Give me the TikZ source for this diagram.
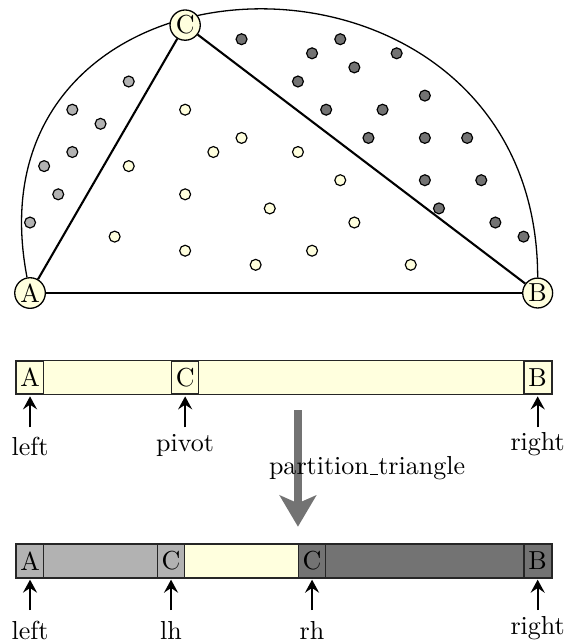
\documentclass[tikz,border=0pt]{standalone}
\usetikzlibrary{arrows.meta}
\pgfdeclarelayer{bg}
\pgfsetlayers{bg,main}
\definecolor{yel}{RGB}{255,255,222}
\colorlet{gA}{black!30}
\colorlet{gB}{black!55}
\tikzset{
  pt/.style={circle, draw, fill=yel, line width=0.5pt, inner sep=0.5pt, minimum size=11.5pt},
  dotl/.style={circle, draw, line width=0.45pt, inner sep=0pt, minimum size=4.2pt, fill=yel},
  dotg/.style={dotl, fill=gA},
  dotd/.style={dotl, fill=gB},
  cell/.style={rectangle, draw=black!85, line width=0.5pt, inner sep=0pt, minimum width=10.4pt, minimum height=12.5pt},
  arr/.style={-{Stealth[length=5pt,width=5.4pt,inset=1.8pt]}, line width=0.7pt, shorten >=0.7pt},
  lbl/.style={anchor=south, inner sep=0pt},
  bigarr/.style={-{Stealth[length=12pt,width=14pt,inset=3pt]}, line width=2.8pt, draw=gB},
}
\begin{document}
\begin{tikzpicture}[x=5.42pt,y=5.42pt]
\useasboundingbox (-2.13,-24.89) rectangle (38.51,20.78);
% triangle points
\node[pt] (A) at (0,0) {A};
\node[pt] (B) at (36,0) {B};
\node[pt] (C) at (11,19) {C};
% dots
\foreach \x/\y [count=\k] in {7/15,3/13,5/12,3/10,1/9,2/7,0/5}
  \node[dotg] (g\k) at (\x,\y) {};
\foreach \x/\y [count=\k] in {15/18,22/18,20/17,26/17,23/16,19/15,28/14,21/13,25/13,24/11,28/11,31/11,28/8,32/8,29/6,33/5,35/4}
  \node[dotd] (d\k) at (\x,\y) {};
\foreach \x/\y [count=\k] in {11/13,15/11,13/10,19/10,7/9,22/8,11/7,17/6,23/5,6/4,11/3,20/3,16/2,27/2}
  \node[dotl] (l\k) at (\x,\y) {};
% upper bar cells
\node[cell, fill=yel] (A1) at (0,-6) {A};
\node[cell, fill=yel] (C1) at (11,-6) {C};
\node[cell, fill=yel] (B1) at (36,-6) {B};
% lower bar cells
\node[cell, fill=gA] (A2) at (0,-19) {A};
\node[cell, fill=gA] (L2) at (10,-19) {C};
\node[cell, fill=gB] (R2) at (20,-19) {C};
\node[cell, fill=gB] (B2) at (36,-19) {B};
\begin{pgfonlayer}{bg}
  \draw[line width=0.5pt] (A) .. controls (-5,26) and (36,27) .. (B);
  \draw[line width=0.8pt] (A) -- (C) -- (B);
  \draw[line width=0.6pt] (A) -- (B);
  \draw[fill=yel, draw=black!85, line width=0.5pt] (A1.south west) rectangle (B1.north east);
  \fill[gA] (A2.south west) rectangle (L2.north east);
  \fill[yel] (L2.south east) rectangle (R2.north west);
  \fill[gB] (R2.south west) rectangle (B2.north east);
  \draw[draw=black!85, line width=0.5pt] (A2.south west) rectangle (B2.north east);
\end{pgfonlayer}
% upper labels and arrows
\node[lbl] (la1) at (0,-11.6) {left};
\node[lbl] (lp1) at (11,-11.6) {pivot};
\node[lbl] (lr1) at (36,-11.6) {right};
\coordinate (ta1) at (0,-9.53);
\coordinate (tp1) at (11,-9.53);
\coordinate (tr1) at (36,-9.53);
\draw[arr] (ta1) -- (A1);
\draw[arr] (tp1) -- (C1);
\draw[arr] (tr1) -- (B1);
% lower labels and arrows
\node[lbl] (la2) at (0,-24.61) {left};
\node[lbl] (ll2) at (10,-24.61) {lh};
\node[lbl] (lr2) at (20,-24.61) {rh};
\node[lbl] (lb2) at (36,-24.61) {right};
\coordinate (ta2) at (0,-22.48);
\coordinate (tl2) at (10,-22.48);
\coordinate (tr2) at (20,-22.48);
\coordinate (tb2) at (36,-22.48);
\draw[arr] (ta2) -- (A2);
\draw[arr] (tl2) -- (L2);
\draw[arr] (tr2) -- (R2);
\draw[arr] (tb2) -- (B2);
% big gray arrow
\coordinate (ptop) at (19,-8.3);
\coordinate (pbot) at (19,-16.57);
\draw[bigarr] (ptop) -- (pbot);
\node[anchor=base, inner sep=0pt] (plabel) at (23.9,-12.9) {partition\kern.06em\vbox{\hrule width.3em}triangle};
\end{tikzpicture}
\end{document}
